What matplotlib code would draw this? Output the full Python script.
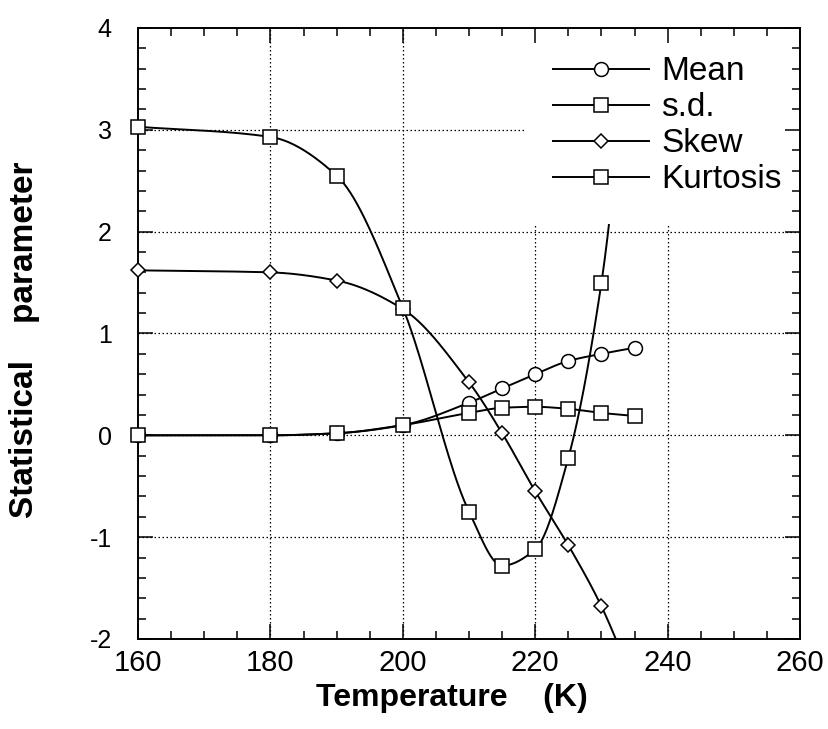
import numpy as np
import matplotlib
matplotlib.use("Agg")
import matplotlib.pyplot as plt
from matplotlib.ticker import MultipleLocator

plt.rcParams['font.family'] = ['Liberation Sans', 'DejaVu Sans']
plt.rcParams['axes.unicode_minus'] = False

# data
temps = [160, 180, 190, 200, 210, 215, 220, 225, 230, 235]
mean_vals = [0.0, 0.0, 0.02, 0.10, 0.32, 0.46, 0.60, 0.73, 0.80, 0.86]
sd_vals = [0.0, 0.0, 0.02, 0.10, 0.22, 0.27, 0.28, 0.26, 0.22, 0.19]
skew_vals = [1.62, 1.60, 1.52, 1.24, 0.52, 0.02, -0.55, -1.08, -1.68, -2.45]
kurt_vals = [3.03, 2.93, 2.55, 1.25, -0.75, -1.28, -1.12, -0.22, 1.50, 4.50]

x_ticks = [160, 180, 200, 220, 240, 260]
y_ticks = [-2, -1, 0, 1, 2, 3, 4]


def smooth(x, y, n=40):
    # monotone cubic (Fritsch-Carlson) curve through the points
    x = np.asarray(x, float)
    y = np.asarray(y, float)
    h = np.diff(x)
    d = np.diff(y) / h
    m = np.zeros_like(y)
    m[0], m[-1] = d[0], d[-1]
    for k in range(1, len(x) - 1):
        if d[k - 1] * d[k] <= 0:
            m[k] = 0.0
        else:
            w1 = 2 * h[k] + h[k - 1]
            w2 = h[k] + 2 * h[k - 1]
            m[k] = (w1 + w2) / (w1 / d[k - 1] + w2 / d[k])
    xs, ys = [], []
    t = np.linspace(0, 1, n)
    h00 = 2 * t**3 - 3 * t**2 + 1
    h10 = t**3 - 2 * t**2 + t
    h01 = -2 * t**3 + 3 * t**2
    h11 = t**3 - t**2
    for i in range(len(x) - 1):
        xs.append(x[i] + t * h[i])
        ys.append(h00 * y[i] + h10 * h[i] * m[i] + h01 * y[i + 1] + h11 * h[i] * m[i + 1])
    return np.concatenate(xs), np.concatenate(ys)


fig = plt.figure(figsize=(8.29, 7.29), dpi=100)
ax = fig.add_axes([0.1665, 0.1235, 0.7986, 0.8381])
ax.set_xlim(160, 260)
ax.set_ylim(-2, 4)
ax.set_axisbelow(False)  # ticks drawn over the legend box

# dotted grid drawn by hand so it can sit under the legend
grid_style = dict(color="black", linestyle=(0, (1.2, 2.0)), lw=0.9, zorder=1)
for xt in x_ticks[1:-1]:
    ax.axvline(xt, **grid_style)
for yt in y_ticks[1:-1]:
    ax.axhline(yt, **grid_style)

series = [
    ("Mean", mean_vals, "o", 10),
    ("s.d.", sd_vals, "s", 10),
    ("Skew", skew_vals, "D", 7),
    ("Kurtosis", kurt_vals, "s", 10),
]

handles = []
for label, vals, mk, ms in series:
    sx, sy = smooth(temps, vals)
    ax.plot(sx, sy, color="black", lw=1.4, zorder=2)
    # markers only for points inside the y range, not clipped at the frame
    px = [t for t, v in zip(temps, vals) if -2 <= v <= 4]
    py = [v for v in vals if -2 <= v <= 4]
    ax.plot(px, py, linestyle="none", marker=mk, ms=ms, mfc="white",
            mec="black", mew=1.1, zorder=4, clip_on=False)
    h, = ax.plot([], [], color="black", lw=1.4, marker=mk, ms=ms, mfc="white",
                 mec="black", mew=1.1, label=label)
    handles.append(h)

ax.set_xticks(x_ticks)
ax.set_yticks(y_ticks)
ax.xaxis.set_minor_locator(MultipleLocator(5))
ax.yaxis.set_minor_locator(MultipleLocator(0.2))
ax.tick_params(which="both", direction="in", top=True, right=True, width=1.1)
ax.tick_params(which="major", length=11)
ax.tick_params(which="minor", length=6)
ax.tick_params(axis="x", which="major", labelsize=21, pad=7)
ax.tick_params(axis="y", which="major", labelsize=18, pad=19)
for s in ax.spines.values():
    s.set_linewidth(1.4)

ax.set_xlabel("Temperature    (K)", fontsize=23, fontweight="bold")
ax.xaxis.set_label_coords(0.474, -0.072)
ax.set_ylabel("Statistical    parameter", fontsize=24, fontweight="bold")
ax.yaxis.set_label_coords(-0.148, 0.49)

leg = ax.legend(handles=handles, loc="upper right", bbox_to_anchor=(1.015, 1.0),
                fontsize=24, frameon=True, facecolor="white", edgecolor="none",
                framealpha=1, fancybox=False, borderpad=0.85, handlelength=2.9,
                handletextpad=0.35, labelspacing=0.15, borderaxespad=0)
leg.set_zorder(2.2)

fig.savefig("out.png", dpi=100)
